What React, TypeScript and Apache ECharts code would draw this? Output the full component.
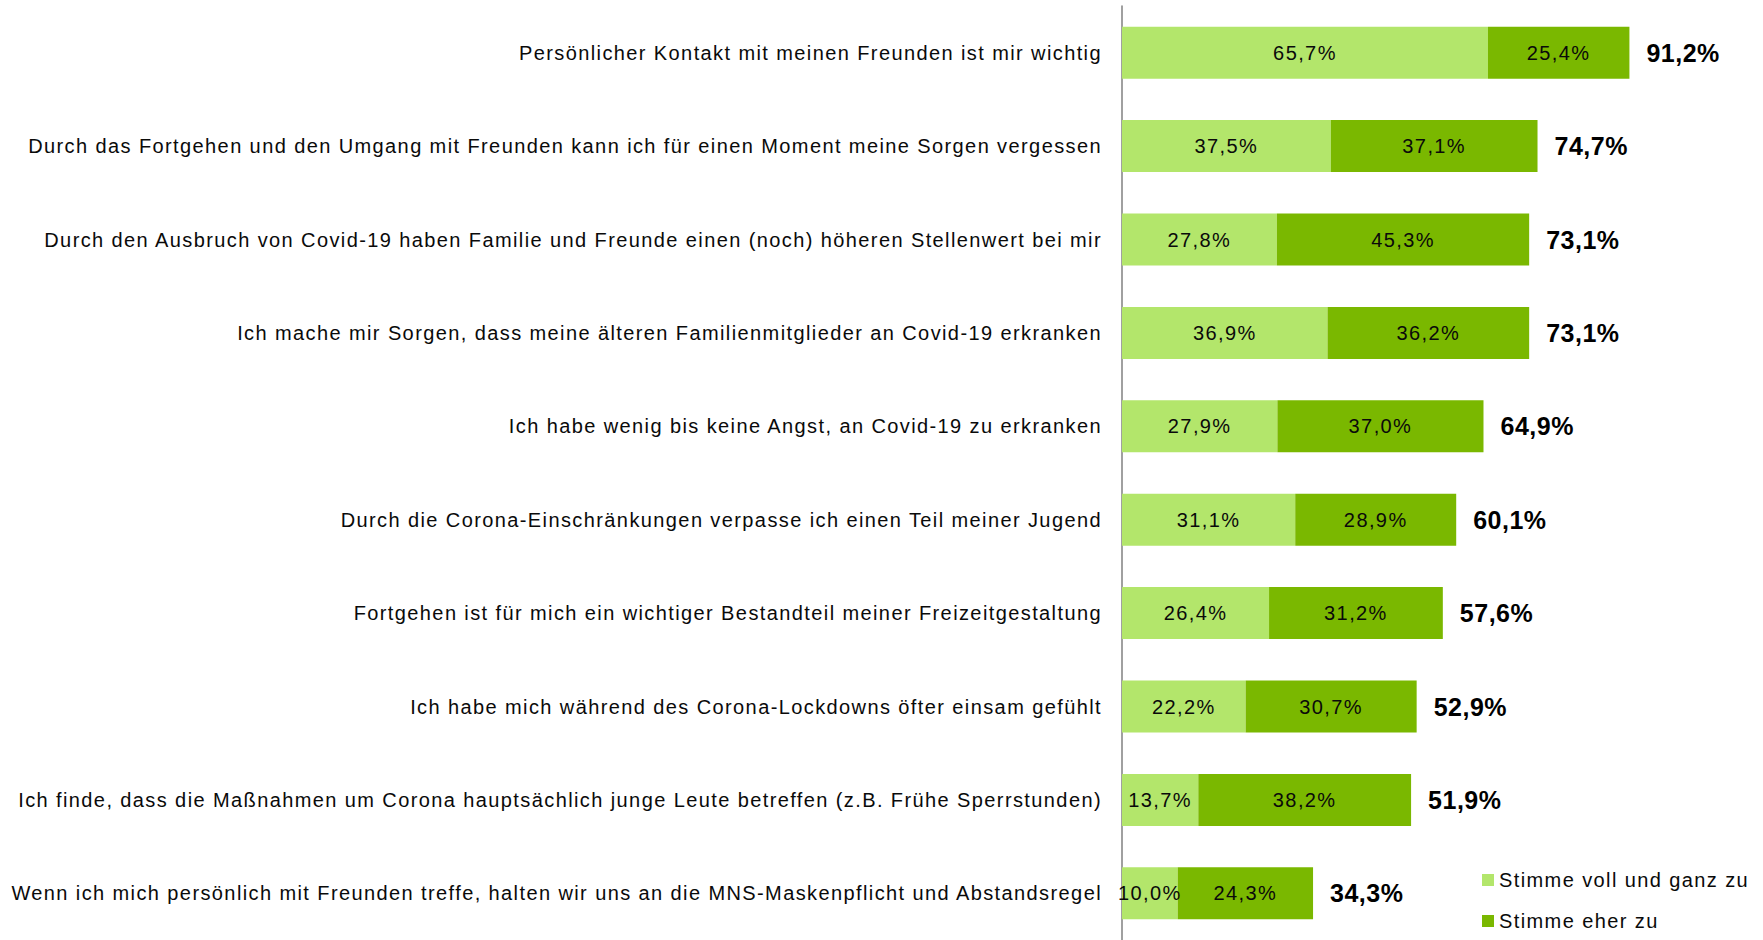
import React, { useEffect, useRef } from "react";
import * as echarts from "echarts";

const categories = [
  "Persönlicher Kontakt mit meinen Freunden ist mir wichtig",
  "Durch das Fortgehen und den Umgang mit Freunden kann ich für einen Moment meine Sorgen vergessen",
  "Durch den Ausbruch von Covid-19 haben Familie und Freunde einen (noch) höheren Stellenwert bei mir",
  "Ich mache mir Sorgen, dass meine älteren Familienmitglieder an Covid-19 erkranken",
  "Ich habe wenig bis keine Angst, an Covid-19 zu erkranken",
  "Durch die Corona-Einschränkungen verpasse ich einen Teil meiner Jugend",
  "Fortgehen ist für mich ein wichtiger Bestandteil meiner Freizeitgestaltung",
  "Ich habe mich während des Corona-Lockdowns öfter einsam gefühlt",
  "Ich finde, dass die Maßnahmen um Corona hauptsächlich junge Leute betreffen (z.B. Frühe Sperrstunden)",
  "Wenn ich mich persönlich mit Freunden treffe, halten wir uns an die MNS-Maskenpflicht und Abstandsregel",
];

const voll = [65.7, 37.5, 27.8, 36.9, 27.9, 31.1, 26.4, 22.2, 13.7, 10.0];
const eher = [25.4, 37.1, 45.3, 36.2, 37.0, 28.9, 31.2, 30.7, 38.2, 24.3];
const totals = [91.2, 74.7, 73.1, 73.1, 64.9, 60.1, 57.6, 52.9, 51.9, 34.3];

const seriesNames = ["Stimme voll und ganz zu", "Stimme eher zu"];

const fmt = (v: number) => v.toFixed(1).replace(".", ",") + "%";

const FONT = "'Liberation Sans', Arial, sans-serif";

const css = `
#chartbox svg text { letter-spacing: 1.4px; }
#chartbox svg text[font-weight="bold"], #chartbox svg text[style*="bold"] { letter-spacing: 0.5px; }
`;

export default function App() {
  const ref = useRef<HTMLDivElement>(null);
  useEffect(() => {
    if (!ref.current) return;
    const chart = echarts.init(ref.current, undefined, { renderer: "svg" });
    chart.setOption({
      animation: false,
      backgroundColor: "#ffffff",
      textStyle: { fontFamily: FONT },
      grid: { left: 1122, top: 6, width: 557, height: 939 },
      legend: {
        data: seriesNames,
        orient: "vertical",
        left: 1477,
        top: 865,
        icon: "rect",
        itemWidth: 12,
        itemHeight: 12,
        itemGap: 21,
        textStyle: { fontFamily: FONT, fontSize: 20, color: "#0a0a0a" },
      },
      xAxis: {
        type: "value",
        min: 0,
        max: 100,
        show: false,
      },
      yAxis: {
        type: "category",
        data: categories,
        inverse: true,
        axisLine: { show: true, lineStyle: { color: "#808080", width: 1.5 } },
        axisTick: { show: false },
        axisLabel: {
          fontFamily: FONT,
          fontSize: 20,
          color: "#0a0a0a",
          margin: 20,
        },
      },
      series: [
        {
          name: seriesNames[0],
          type: "bar",
          stack: "total",
          barWidth: 52,
          data: voll,
          itemStyle: { color: "#b3e66b" },
          label: {
            show: true,
            position: "inside",
            formatter: (p: any) => fmt(p.value),
            fontFamily: FONT,
            fontSize: 20,
            color: "#0a0a0a",
          },
        },
        {
          name: seriesNames[1],
          type: "bar",
          stack: "total",
          barWidth: 52,
          data: eher,
          itemStyle: { color: "#7ab800" },
          label: {
            show: true,
            position: "inside",
            formatter: (p: any) => fmt(p.value),
            fontFamily: FONT,
            fontSize: 20,
            color: "#0a0a0a",
          },
        },
        {
          name: "Gesamt",
          type: "bar",
          stack: "total",
          barWidth: 52,
          data: totals.map(() => 0),
          itemStyle: { color: "transparent" },
          label: {
            show: true,
            position: "right",
            distance: 17,
            formatter: (p: any) => fmt(totals[p.dataIndex]),
            fontFamily: FONT,
            fontSize: 25,
            fontWeight: "bold",
            color: "#000000",
          },
        },
      ],
    });
    return () => chart.dispose();
  }, []);
  return (
    <>
      <style>{css}</style>
      <div
        id="chartbox"
        ref={ref}
        style={{ position: "fixed", left: 0, top: 0, width: 1763, height: 940 }}
      />
    </>
  );
}
